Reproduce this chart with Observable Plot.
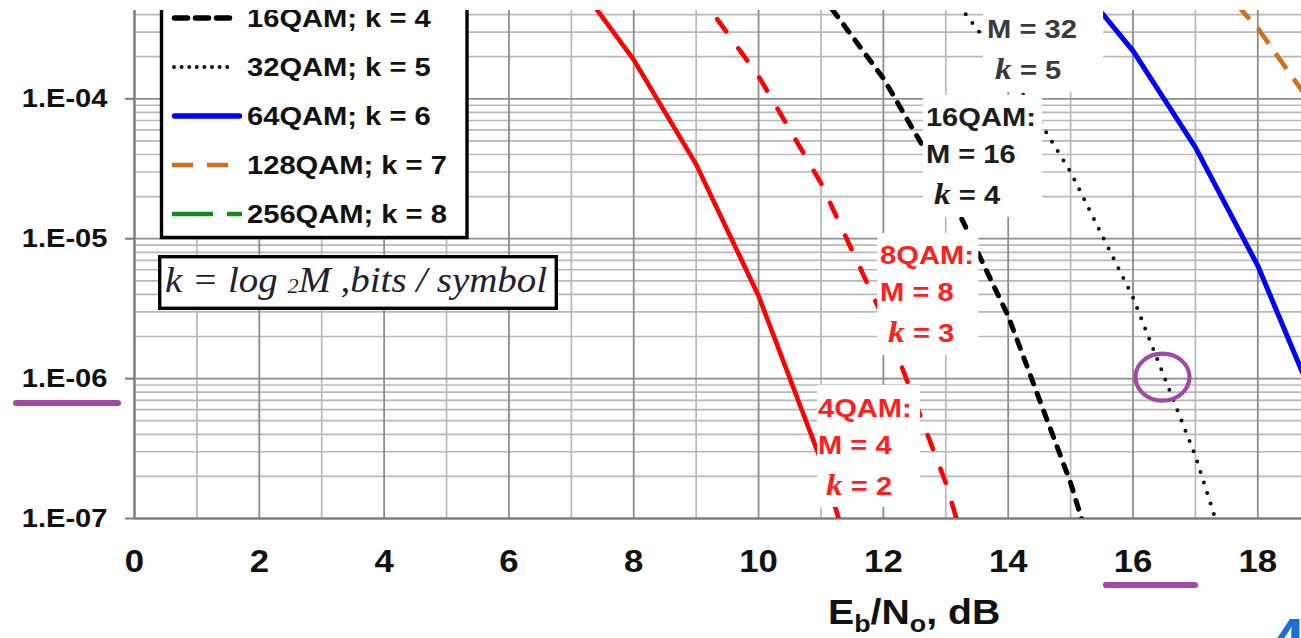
<!DOCTYPE html>
<html>
<head>
<meta charset="utf-8">
<script src="https://cdn.jsdelivr.net/npm/d3@7"></script>
<script src="https://cdn.jsdelivr.net/npm/@observablehq/plot@0.6"></script>
<style>
  html, body { margin: 0; padding: 0; background: #fff; overflow: hidden; }
  svg { display: block; }
</style>
</head>
<body>
<script>
// ---------------- data ----------------
const ebno = [6, 7, 8, 9, 10, 11, 12, 13, 14, 15, 16, 17, 18, 19, 20];
const ber4QAM   = [null, 7.7e-4, 1.9e-4, 3.4e-5, 3.9e-6, 2.6e-7, 9.0e-9, null, null, null, null, null, null, null, null];
const ber8QAM   = [null, null, null, 6.0e-4, 1.45e-4, 2.5e-5, 2.7e-6, 1.8e-7, 5.7e-9, null, null, null, null, null, null];
const ber16QAM  = [null, null, null, null, null, 5.6e-4, 1.4e-4, 2.4e-5, 2.8e-6, 1.8e-7, 6.2e-9, null, null, null, null];
const ber32QAM  = [null, null, null, null, null, null, null, 6.2e-4, 1.6e-4, 3.0e-5, 3.8e-6, 2.8e-7, 1.1e-8, null, null];
const ber64QAM  = [null, null, null, null, null, null, null, null, null, 7.7e-4, 2.2e-4, 4.5e-5, 6.4e-6, 5.5e-7, 2.6e-8];
const ber128QAM = [null, null, null, null, null, null, null, null, null, null, null, 1.0e-3, 3.2e-4, 7.5e-5, 1.2e-5];
const ber256QAM = [null, null, null, null, null, null, null, null, null, null, null, null, 3.5e-3, 1.5e-3, 5.1e-4];

const seriesNames = ["4QAM", "8QAM", "16QAM", "32QAM", "64QAM", "128QAM", "256QAM"];
const seriesM = [4, 8, 16, 32, 64, 128, 256];
const seriesK = [2, 3, 4, 5, 6, 7, 8];
const seriesValues = [ber4QAM, ber8QAM, ber16QAM, ber32QAM, ber64QAM, ber128QAM, ber256QAM];

const xTicks = [0, 2, 4, 6, 8, 10, 12, 14, 16, 18];
const yTicks = [1e-4, 1e-5, 1e-6, 1e-7];
const yTickLabels = ["1.E-04", "1.E-05", "1.E-06", "1.E-07"];
const xTitle = ["E", "b", "/N", "o", ", dB"];
const formulaText = ["k = log ", "2", "M ,bits / symbol"];

// curve-label annotations (data units): box extent, first-line anchor
const curveLabels = [
  {series: "4QAM",  x1: 10.945, x2: 12.596, y1: 1.2e-7,  y2: 8.95e-7, tx: 10.96,  ty: 6.14e-7, color: "#ff1e1e"},
  {series: "8QAM",  x1: 11.91,  x2: 13.53,  y1: 1.47e-6, y2: 1.09e-5, tx: 11.955, ty: 7.6e-6,  color: "#ff1e1e"},
  {series: "16QAM", x1: 12.644, x2: 14.551, y1: 1.42e-5, y2: 1.06e-4, tx: 12.69,  ty: 7.35e-5, color: "#1c1c1c"},
  {series: "32QAM", x1: 13.606, x2: 15.529, y1: 1.11e-4, y2: 3e-3,    tx: 13.67,  ty: 5.83e-4, color: "#3a3a3a"}
];

// ---------------- styles ----------------
const curveStyle = {
  "4QAM":   {stroke: "#ff0000", width: 4.6, dash: null,          cap: "round"},
  "8QAM":   {stroke: "#ff0000", width: 4.6, dash: "15,21",       cap: "round"},
  "16QAM":  {stroke: "#000000", width: 5,   dash: "9,10",        cap: "round"},
  "32QAM":  {stroke: "#111111", width: 4,   dash: "0,11",        cap: "round"},
  "64QAM":  {stroke: "#0000ff", width: 5,   dash: null,          cap: "round"},
  "128QAM": {stroke: "#d0701e", width: 4.6, dash: "19,12",       cap: "butt"},
  "256QAM": {stroke: "#178a17", width: 4.6, dash: "40,14,14,14", cap: "butt"}
};
const legendStyle = {
  "4QAM":   {dash: null,    cap: "round", width: 4.5, x1: 174.5, x2: 239.5},
  "8QAM":   {dash: "14,10", cap: "round", width: 4.5, x1: 174.5, x2: 239.5},
  "16QAM":  {dash: "13,8",  cap: "round", width: 5.5, x1: 174.5, x2: 230},
  "32QAM":  {dash: "0,7.6", cap: "round", width: 4,   x1: 174,   x2: 232},
  "64QAM":  {dash: null,    cap: "round", width: 5.5, x1: 174.5, x2: 239.5},
  "128QAM": {dash: "21,14", cap: "butt",  width: 4.5, x1: 172,   x2: 228},
  "256QAM": {dash: "41,14", cap: "butt",  width: 4.5, x1: 172,   x2: 242}
};
const gridMajor = "#8d8d8d", gridMinor = "#b8b8b8", axisColor = "#7c7c7c";
const purple = "#a349a4";
const TEXT_STRETCH = 1.12;

// ---------------- derived tables ----------------
const rows = [];
seriesNames.forEach((name, si) => {
  seriesValues[si].forEach((v, i) => { if (v != null) rows.push({series: name, ebno: ebno[i], ber: v}); });
});
const xGridMajor = d3.range(0, 19, 2);
const xGridMinor = d3.range(1, 19, 2);
const yGridMajor = yTicks;
const yGridMinor = [];
for (let e = -7; e <= -4; e++) for (let m = 2; m <= 9; m++) {
  const v = m * Math.pow(10, e);
  if (v < 4.28e-4) yGridMinor.push(v);
}

const curveMarks = seriesNames.map(name => {
  const s = curveStyle[name];
  return Plot.line(rows.filter(r => r.series === name), {
    x: "ebno", y: "ber", stroke: s.stroke, strokeWidth: s.width,
    strokeDasharray: s.dash || undefined, strokeLinecap: s.cap, strokeLinejoin: "round",
    clip: true
  });
});

const chart = Plot.plot({
  width: 1301, height: 638,
  marginTop: 10, marginRight: 0, marginBottom: 120, marginLeft: 134,
  style: {background: "#ffffff", fontFamily: "'Liberation Sans', Arial, sans-serif", overflow: "hidden", color: "#111"},
  x: {domain: [0, 18.7]},
  y: {type: "log", domain: [1e-7, 4.28e-4]},
  marks: [
    Plot.ruleY(yGridMinor, {y: d => d, stroke: gridMinor, strokeWidth: 1.7}),
    Plot.ruleX(xGridMinor, {x: d => d, stroke: gridMinor, strokeWidth: 1.7}),
    Plot.ruleY(yGridMajor, {y: d => d, stroke: gridMajor, strokeWidth: 1.8}),
    Plot.ruleX(xGridMajor, {x: d => d, stroke: gridMajor, strokeWidth: 1.8}),
    Plot.ruleX([0], {x: d => d, stroke: axisColor, strokeWidth: 2.2}),
    Plot.ruleY([1e-7], {y: d => d, stroke: axisColor, strokeWidth: 2.2}),
    ...curveMarks,
    Plot.rect(curveLabels, {x1: "x1", x2: "x2", y1: "y1", y2: "y2", fill: "#ffffff"}),
    Plot.axisY({ticks: yTicks, tickFormat: d => yTickLabels[yTicks.indexOf(d)], tickSize: 9, tickPadding: 18,
                fontSize: 26, fontWeight: "bold", stroke: axisColor, strokeWidth: 2, fill: "#111", label: null}),
    Plot.axisX({ticks: xTicks, tickFormat: d => String(d), tickSize: 0, tickPadding: 31,
                fontSize: 31, fontWeight: "bold", fill: "#111", label: null})
  ]
});
document.body.appendChild(chart);

const X = chart.scale("x"), Y = chart.scale("y");
const svg = d3.select(chart);
const TOP = 10;

// ---- curve labels (text); lines hidden above the cropped top are skipped ----
const lineOffsets = [0, 37, 78];
curveLabels.forEach(lb => {
  const si = seriesNames.indexOf(lb.series);
  const x0 = X.apply(lb.tx), y0 = Y.apply(lb.ty);
  const g = svg.append("g").attr("fill", lb.color).attr("font-weight", "bold").attr("font-size", 26)
    .attr("text-anchor", "start");
  if (y0 + lineOffsets[0] > TOP + 6)
    g.append("text").attr("class", "stretch").attr("x", x0).attr("y", y0 + lineOffsets[0]).attr("dy", "0.36em").text(lb.series + ":");
  g.append("text").attr("class", "stretch").attr("x", x0).attr("y", y0 + lineOffsets[1]).attr("dy", "0.36em").text("M = " + seriesM[si]);
  const kt = g.append("text").attr("class", "stretch").attr("x", x0 + 8).attr("y", y0 + lineOffsets[2]).attr("dy", "0.36em");
  kt.append("tspan").attr("font-family", "'Liberation Serif', 'Times New Roman', serif").attr("font-style", "italic").attr("font-size", 30).text("k");
  kt.append("tspan").text(" = " + seriesK[si]);
});

// ---- legend (its upper rows lie above the cropped top) ----
const lg = svg.append("g").attr("text-anchor", "start");
lg.append("rect").attr("x", 161.5).attr("y", -260).attr("width", 305.5).attr("height", 497.5)
  .attr("fill", "#fff").attr("stroke", "#000").attr("stroke-width", 3.4);
seriesNames.forEach((name, i) => {
  const cy = 18 + (i - 2) * 49;
  if (cy < TOP) return;
  const s = curveStyle[name], ls = legendStyle[name];
  lg.append("line").attr("x1", ls.x1).attr("x2", ls.x2).attr("y1", cy).attr("y2", cy)
    .attr("stroke", s.stroke).attr("stroke-width", ls.width).attr("stroke-linecap", ls.cap)
    .attr("stroke-dasharray", ls.dash);
  lg.append("text").attr("class", "stretch").attr("x", 247).attr("y", cy).attr("dy", "0.36em")
    .attr("font-size", 26).attr("font-weight", "bold").attr("fill", "#111")
    .text(name + "; k = " + seriesK[i]);
});

// ---- formula box ----
svg.append("rect").attr("x", 159.7).attr("y", 256.7).attr("width", 396.6).attr("height", 51.6)
  .attr("fill", "#fff").attr("stroke", "#000").attr("stroke-width", 3.4);
const ft = svg.append("text").attr("x", 165).attr("y", 292).attr("font-size", 35).attr("text-anchor", "start")
  .attr("font-family", "'Liberation Serif', 'Times New Roman', serif").attr("font-style", "italic")
  .attr("fill", "#20202e").attr("textLength", 382).attr("lengthAdjust", "spacingAndGlyphs");
ft.append("tspan").text(formulaText[0]);
ft.append("tspan").attr("font-size", 20).attr("dy", 1).text(formulaText[1]);
ft.append("tspan").attr("dy", -1).text(formulaText[2]);

// ---- x axis title ----
const tt = svg.append("text").attr("class", "stretch").attr("x", 828).attr("y", 624).attr("text-anchor", "start")
  .attr("font-size", 35).attr("font-weight", "bold").attr("fill", "#111");
tt.append("tspan").text(xTitle[0]);
tt.append("tspan").attr("font-size", 24).attr("dy", 8).text(xTitle[1]);
tt.append("tspan").attr("dy", -8).text(xTitle[2]);
tt.append("tspan").attr("font-size", 24).attr("dy", 8).text(xTitle[3]);
tt.append("tspan").attr("dy", -8).text(xTitle[4]);

// ---- stretch texts horizontally (source image is widened) ----
svg.selectAll('g[aria-label$="tick label"] text, text.stretch').each(function () {
  const w = this.getComputedTextLength();
  if (w > 0) {
    this.setAttribute("textLength", (w * TEXT_STRETCH).toFixed(1));
    this.setAttribute("lengthAdjust", "spacingAndGlyphs");
  }
});

// ---- purple hand annotations ----
svg.append("ellipse").attr("cx", X.apply(16.48)).attr("cy", Y.apply(1e-6) - 1).attr("rx", 27).attr("ry", 23.5)
  .attr("fill", "none").attr("stroke", purple).attr("stroke-width", 4.2);
svg.append("line").attr("x1", 16).attr("x2", 118).attr("y1", 403).attr("y2", 403)
  .attr("stroke", purple).attr("stroke-width", 6).attr("stroke-linecap", "round");
svg.append("line").attr("x1", 1106).attr("x2", 1195).attr("y1", 585).attr("y2", 585)
  .attr("stroke", purple).attr("stroke-width", 6).attr("stroke-linecap", "round");

// ---- top crop strip & partial glyph at bottom right ----
svg.append("rect").attr("x", 0).attr("y", 0).attr("width", 1301).attr("height", TOP).attr("fill", "#fff");
svg.append("text").attr("x", 1271).attr("y", 661).attr("font-size", 62).attr("font-weight", "bold")
  .attr("text-anchor", "start").attr("fill", "#1a6fcf").text("4");
</script>
</body>
</html>
